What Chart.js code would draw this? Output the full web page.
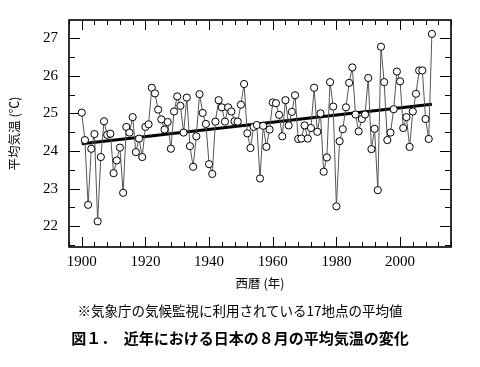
<!DOCTYPE html>
<html><head><meta charset="utf-8">
<script src="https://cdn.jsdelivr.net/npm/chart.js@4"></script>
<style>
html,body{margin:0;padding:0;background:#fff;}
#wrap{position:relative;width:480px;height:367px;overflow:hidden;}
#c{position:absolute;left:0;top:0;}
.txt{position:absolute;left:0;width:480px;text-align:center;font-family:"Noto Sans CJK JP","Noto Sans CJK SC",sans-serif;color:#000;white-space:nowrap;line-height:20px;}
</style></head><body>
<div id="wrap">
<canvas id="c" width="480" height="367"></canvas>
<div class="txt" id="note" style="top:300px;font-size:13.5px;">※気象庁の気候監視に利用されている17地点の平均値</div>
<div class="txt" id="cap" style="top:328px;font-size:15px;font-weight:bold;">図１．　近年における日本の８月の平均気温の変化</div>
</div>
<script>
const years = [1900,1901,1902,1903,1904,1905,1906,1907,1908,1909,
1910,1911,1912,1913,1914,1915,1916,1917,1918,1919,
1920,1921,1922,1923,1924,1925,1926,1927,1928,1929,
1930,1931,1932,1933,1934,1935,1936,1937,1938,1939,
1940,1941,1942,1943,1944,1945,1946,1947,1948,1949,
1950,1951,1952,1953,1954,1955,1956,1957,1958,1959,
1960,1961,1962,1963,1964,1965,1966,1967,1968,1969,
1970,1971,1972,1973,1974,1975,1976,1977,1978,1979,
1980,1981,1982,1983,1984,1985,1986,1987,1988,1989,
1990,1991,1992,1993,1994,1995,1996,1997,1998,1999,
2000,2001,2002,2003,2004,2005,2006,2007,2008,2009,2010];
const augustTemps = [25.02,24.29,22.57,24.06,24.45,22.13,23.84,24.79,24.43,24.46,
23.41,23.75,24.09,22.89,24.64,24.49,24.90,23.97,24.33,23.84,
24.64,24.71,25.68,25.53,25.10,24.84,24.57,24.77,24.06,25.05,
25.45,25.20,24.49,25.42,24.13,23.58,24.39,25.51,25.01,24.72,
23.65,23.39,24.78,25.35,25.16,24.78,25.16,25.05,24.79,24.78,
25.23,25.78,24.47,24.08,24.64,24.69,23.27,24.67,24.11,24.57,
25.29,25.27,24.96,24.39,25.35,24.68,25.04,25.48,24.32,24.33,
24.68,24.33,24.61,25.68,24.51,25.00,23.45,23.83,25.83,25.18,
22.53,24.26,24.58,25.16,25.81,26.22,24.97,24.52,24.85,24.97,
25.94,24.05,24.59,22.96,26.77,25.83,24.29,24.49,25.11,26.11,
25.85,24.61,24.90,24.11,25.05,25.52,26.14,26.14,24.85,24.32,27.11];
const trendYears = [1900, 2010];
const trendTemps = [24.19, 25.24];
const xTickLabels = [1900,1920,1940,1960,1980,2000];
const yTickLabels = [22,23,24,25,26,27];

const serif = "'Liberation Serif','Times New Roman',serif";
const jp = "'Noto Sans CJK JP','Noto Sans CJK SC',sans-serif";

const frameTicks = {
  id:'frameTicks',
  beforeDatasetsDraw(chart){
    const {ctx, chartArea:a, scales:{x,y}} = chart;
    ctx.save();
    ctx.strokeStyle='#000';
    ctx.lineWidth=1;
    ctx.beginPath();
    for(let v=1896; v<=2016; v+=4){
      const px=Math.round(x.getPixelForValue(v))+0.5;
      const L = xTickLabels.includes(v)?10:5;
      ctx.moveTo(px,a.bottom); ctx.lineTo(px,a.bottom-L);
      ctx.moveTo(px,a.top); ctx.lineTo(px,a.top+L);
    }
    for(let v=21.5; v<=27.5; v+=0.5){
      const py=Math.round(y.getPixelForValue(v))+0.5;
      if(py<a.top||py>a.bottom) continue;
      const L = yTickLabels.includes(v)?11:6;
      ctx.moveTo(a.left,py); ctx.lineTo(a.left+L,py);
      ctx.moveTo(a.right,py); ctx.lineTo(a.right-L,py);
    }
    ctx.stroke();
    ctx.lineWidth=1.6;
    ctx.strokeRect(a.left,a.top,a.right-a.left,a.bottom-a.top);
    ctx.restore();
  }
};

new Chart(document.getElementById('c'),{
  type:'line',
  data:{datasets:[
    {data:years.map((yr,i)=>({x:yr,y:augustTemps[i]})),
     borderColor:'#555',borderWidth:1,tension:0,
     pointRadius:3.6,pointBackgroundColor:'#fff',pointBorderColor:'#000',pointBorderWidth:1,order:0},
    {data:trendYears.map((yr,i)=>({x:yr,y:trendTemps[i]})),
     borderColor:'#000',borderWidth:3,pointRadius:0,order:1}
  ]},
  options:{
    responsive:false,animation:false,devicePixelRatio:1,
    layout:{padding:{left:0,right:29,top:15,bottom:70}},
    plugins:{legend:{display:false},tooltip:{enabled:false}},
    scales:{
      x:{type:'linear',min:1896,max:2016,
        grid:{display:false,drawTicks:false},border:{display:false},
        afterBuildTicks(s){s.ticks=xTickLabels.map(v=>({value:v}));},
        afterFit(s){s.height=50;},
        ticks:{padding:6,color:'#000',font:{family:serif,size:15},callback:v=>String(v),maxRotation:0,autoSkip:false},
        title:{display:true,text:'西暦 (年)',color:'#000',font:{family:jp,size:12.5},padding:{top:0,bottom:6}}
      },
      y:{type:'linear',min:21.45,max:27.48,
        grid:{display:false,drawTicks:false},border:{display:false},
        afterBuildTicks(s){s.ticks=yTickLabels.map(v=>({value:v}));},
        afterFit(s){s.width=69;},
        ticks:{padding:11,color:'#000',font:{family:serif,size:15},callback:v=>String(v)},
        title:{display:true,text:'平均気温 (℃)',color:'#000',font:{family:jp,size:12.5},padding:{top:7,bottom:0}}
      }
    }
  },
  plugins:[frameTicks]
});
</script>
</body></html>
